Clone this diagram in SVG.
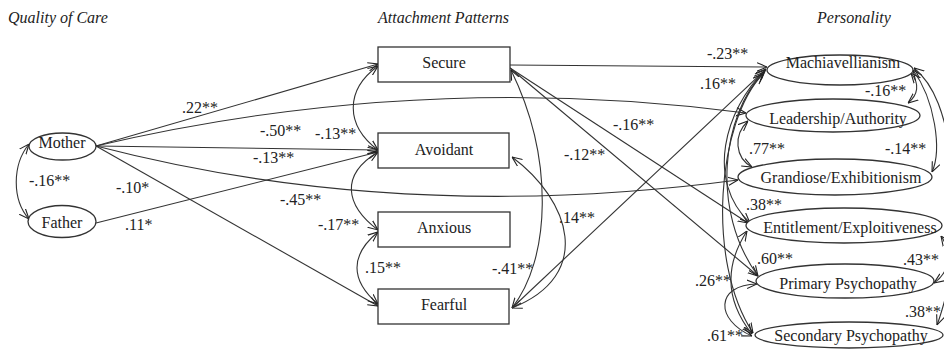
<svg xmlns="http://www.w3.org/2000/svg" width="944" height="349" viewBox="0 0 944 349" font-family="'Liberation Serif', Tinos, 'Times New Roman', Times, 'DejaVu Serif', serif">
<style>
text{font-family:'Liberation Serif',Tinos,'Times New Roman',Times,'DejaVu Serif',serif;font-size:16px;fill:#222}
.title{font-style:italic}
.c{text-anchor:middle}
.node{fill:#fff;stroke:#333;stroke-width:1.3}
.e{fill:none;stroke:#333;stroke-width:1.1}
.uni{marker-end:url(#ah)}
.bi{marker-start:url(#ah);marker-end:url(#ah)}
</style>
<defs>
<marker id="ah" viewBox="0 0 10 10" refX="10" refY="5" markerWidth="10" markerHeight="10" markerUnits="userSpaceOnUse" orient="auto-start-reverse">
<path d="M0,0.8 L10,5 L0,9.2" fill="none" stroke="#222" stroke-width="1.1"/>
</marker>
</defs>
<rect width="944" height="349" fill="#fff"/>
<g id="titles">
<text class="title" x="8" y="23">Quality of Care</text>
<text class="title" x="378" y="23">Attachment Patterns</text>
<text class="title" x="817" y="23">Personality</text>
</g>
<g id="connectors">
<path class="e uni" d="M96,146 L378,64"/>
<path class="e uni" d="M96,146 Q420,70 746,113"/>
<path class="e uni" d="M96,146 L378,150"/>
<path class="e uni" d="M96,146 Q400,225 738,180"/>
<path class="e uni" d="M96,146 L378,306"/>
<path class="e uni" d="M96,223 L378,152"/>
<path class="e bi" d="M29,144 C12,165 12,200 29,219"/>
<path class="e bi" d="M378,66 C345,90 345,125 378,150"/>
<path class="e bi" d="M378,152 C340,175 345,205 378,230"/>
<path class="e bi" d="M378,232 C350,255 350,280 378,304"/>
<path class="e uni" d="M510,65 L767,67"/>
<path class="e uni" d="M510,68 L748,223"/>
<path class="e uni" d="M510,68 L758,276"/>
<path class="e bi" d="M511,70 C555,160 550,260 512,308"/>
<path class="e bi" d="M512,157 C570,200 595,275 512,308"/>
<path class="e uni" d="M512,308 L766,69"/>
<path class="e bi" d="M911,73 C920,84 918,95 908,103"/>
<path class="e bi" d="M913,70 C935,100 942,150 932,172"/>
<path class="e" marker-start="url(#ah)" d="M914,68 C935,85 945,115 952,160"/>
<path class="e bi" d="M941,236 C952,252 950,272 934,283"/>
<path class="e uni" d="M950,280 C945,300 942,312 937,325"/>
<path class="e bi" d="M748,121 C733,135 735,158 752,167"/>
<path class="e bi" d="M765,70 C725,110 705,180 750,223"/>
<path class="e bi" d="M764,72 C722,115 710,210 758,276"/>
<path class="e bi" d="M763,74 C718,120 705,260 753,333"/>
<path class="e bi" d="M747,231 C725,265 725,300 752,334"/>
<path class="e bi" d="M757,284 C715,285 715,320 752,336"/>
</g>
<g id="labels">
<text x="182" y="113">.22**</text>
<text x="260" y="136">-.50**</text>
<text x="315" y="139">-.13**</text>
<text x="253" y="163">-.13**</text>
<text x="29" y="186">-.16**</text>
<text x="116" y="193">-.10*</text>
<text x="280" y="205">-.45**</text>
<text x="125" y="230">.11*</text>
<text x="318" y="230">-.17**</text>
<text x="365" y="273">.15**</text>
<text x="492" y="274">-.41**</text>
<text x="559" y="223">.14**</text>
<text x="613" y="130">-.16**</text>
<text x="564" y="160">-.12**</text>
<text x="707" y="59">-.23**</text>
<text x="700" y="89">.16**</text>
<text x="865" y="96">-.16**</text>
<text x="749" y="154">.77**</text>
<text x="885" y="154">-.14**</text>
<text x="746" y="210">.38**</text>
<text x="757" y="264">.60**</text>
<text x="903" y="265">.43**</text>
<text x="695" y="286">.26**</text>
<text x="905" y="317">.38**</text>
<text x="707" y="341">.61**</text>
</g>
<g id="mother"><ellipse class="node" cx="62.5" cy="146.5" rx="33.5" ry="13.5"/><text class="c" x="62" y="148">Mother</text></g>
<g id="father"><ellipse class="node" cx="62" cy="221.5" rx="34" ry="16"/><text class="c" x="62" y="228">Father</text></g>
<g id="secure"><rect class="node" x="378" y="47" width="132" height="35"/><text class="c" x="444" y="68">Secure</text></g>
<g id="avoidant"><rect class="node" x="378" y="133" width="131" height="35"/><text class="c" x="444" y="155">Avoidant</text></g>
<g id="anxious"><rect class="node" x="378" y="212" width="132" height="35"/><text class="c" x="444" y="233">Anxious</text></g>
<g id="fearful"><rect class="node" x="378" y="289" width="131" height="35"/><text class="c" x="444" y="310">Fearful</text></g>
<g id="machiavellianism"><ellipse class="node" cx="840" cy="70" rx="73" ry="15"/><text class="c" x="843" y="68">Machiavellianism</text></g>
<g id="leadership"><ellipse class="node" cx="833" cy="115.5" rx="87" ry="16.5"/><text class="c" x="838" y="124">Leadership/Authority</text></g>
<g id="grandiose"><ellipse class="node" cx="835" cy="177" rx="97" ry="18"/><text class="c" x="841" y="183">Grandiose/Exhibitionism</text></g>
<g id="entitlement"><ellipse class="node" cx="844" cy="225.5" rx="98" ry="17.5"/><text class="c" x="850" y="233">Entitlement/Exploitiveness</text></g>
<g id="primary"><ellipse class="node" cx="845" cy="281" rx="89" ry="17"/><text class="c" x="848" y="289">Primary Psychopathy</text></g>
<g id="secondary"><ellipse class="node" cx="849" cy="335" rx="94" ry="13"/><text class="c" x="851" y="341">Secondary Psychopathy</text></g>
</svg>
